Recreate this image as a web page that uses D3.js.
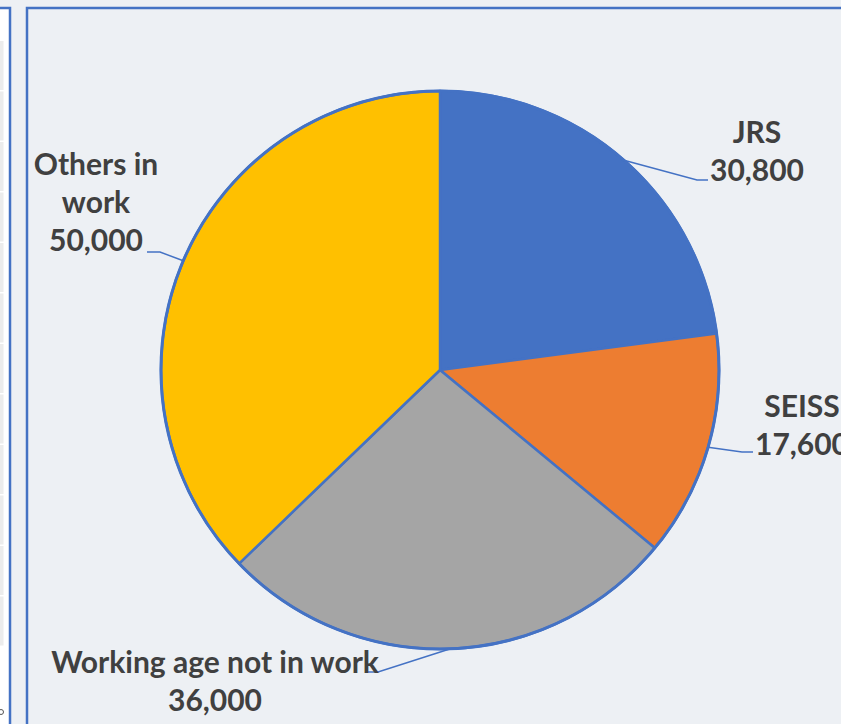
<!DOCTYPE html>
<html>
<head>
<meta charset="utf-8">
<script src="https://cdn.jsdelivr.net/npm/d3@7"></script>
<style>
  body { margin: 0; background: #edf0f4; }
  svg { display: block; }
</style>
</head>
<body>
<svg id="pie_svg" width="841" height="724"></svg>
<script>
// data
const categories = ["JRS", "SEISS", "Working age not in work", "Others in work"]
const values = [30800, 17600, 36000, 50000]
const valueLabels = ["30,800", "17,600", "36,000", "50,000"]
const colors = ["#4472c4", "#ed7d31", "#a5a5a5", "#ffc000"]

// label layout: name lines, text centre x, first baseline y, leader elbow
const labelLines = [["JRS"], ["SEISS"], ["Working age not in work"], ["Others in", "work"]]
const labelPos = [
  {x: 757, y: 143, elbow: [697, 180], end: [708, 180]},
  {x: 802, y: 417, elbow: [742, 452], end: [753, 452]},
  {x: 215, y: 673, elbow: [378, 672], end: [367, 672]},
  {x: 96, y: 175, elbow: [160, 252], end: [147, 252]}
]

const width = 841, height = 724
const cx = 440, cy = 370, radius = 279
const lineGap = 38

const svg = d3.select('#pie_svg')

// left neighbouring panel (cut off at the edge)
const left = svg.append('g')
left.append('rect').attr('x', -10).attr('y', 8).attr('width', 20).attr('height', 740)
  .attr('fill', '#ffffff').attr('stroke', '#4472c4').attr('stroke-width', 2.5)
d3.range(40, 644, 50.5).forEach(function(y){
  left.append('rect').attr('x', 0).attr('y', y + 1).attr('width', 3.5).attr('height', 49)
    .attr('fill', '#ececec')
})
left.append('circle').attr('cx', 1).attr('cy', 712).attr('r', 2.5)
  .attr('fill', 'none').attr('stroke', '#555').attr('stroke-width', 1)

// chart area border
svg.append('rect').attr('x', 27).attr('y', 8).attr('width', 840).attr('height', 740)
  .attr('fill', '#edf0f4').attr('stroke', '#4472c4').attr('stroke-width', 2.5)

const data = categories.map((c, i) => ({name: c, value: values[i], label: valueLabels[i], color: colors[i], i: i}))

const pie = d3.pie().sort(null).value(d => d.value)
const arc = d3.arc().innerRadius(0).outerRadius(radius)
const arcs = pie(data)

const g = svg.append('g').attr('transform', `translate(${cx},${cy})`)

// slices
g.selectAll('path.slice')
  .data(arcs)
  .join('path')
  .attr('class', 'slice')
  .attr('d', arc)
  .attr('fill', d => d.data.color)
  .attr('stroke', '#4472c4')
  .attr('stroke-width', 2.5)
  .attr('stroke-linejoin', 'round')

// outer ring
g.append('circle').attr('r', radius).attr('fill', 'none')
  .attr('stroke', '#4472c4').attr('stroke-width', 3)

// leader lines from the slice edge at its mid angle
arcs.forEach(function(d){
  const p = labelPos[d.data.i]
  const mid = (d.startAngle + d.endAngle) / 2
  const sx = cx + radius * Math.sin(mid)
  const sy = cy - radius * Math.cos(mid)
  svg.append('polyline')
    .attr('points', [[sx, sy], p.elbow, p.end].map(q => q.join(',')).join(' '))
    .attr('fill', 'none')
    .attr('stroke', '#4472c4')
    .attr('stroke-width', 1.5)
})

// labels
arcs.forEach(function(d){
  const p = labelPos[d.data.i]
  const lines = labelLines[d.data.i].concat([d.data.label])
  const t = svg.append('text')
    .attr('text-anchor', 'middle')
    .attr('font-family', 'Lato, "Open Sans", sans-serif')
    .attr('font-weight', 'bold')
    .attr('font-size', 30)
    .attr('fill', '#404040')
  lines.forEach(function(s, k){
    t.append('tspan').attr('x', p.x).attr('y', p.y + k * lineGap).text(s)
  })
})
</script>
</body>
</html>
